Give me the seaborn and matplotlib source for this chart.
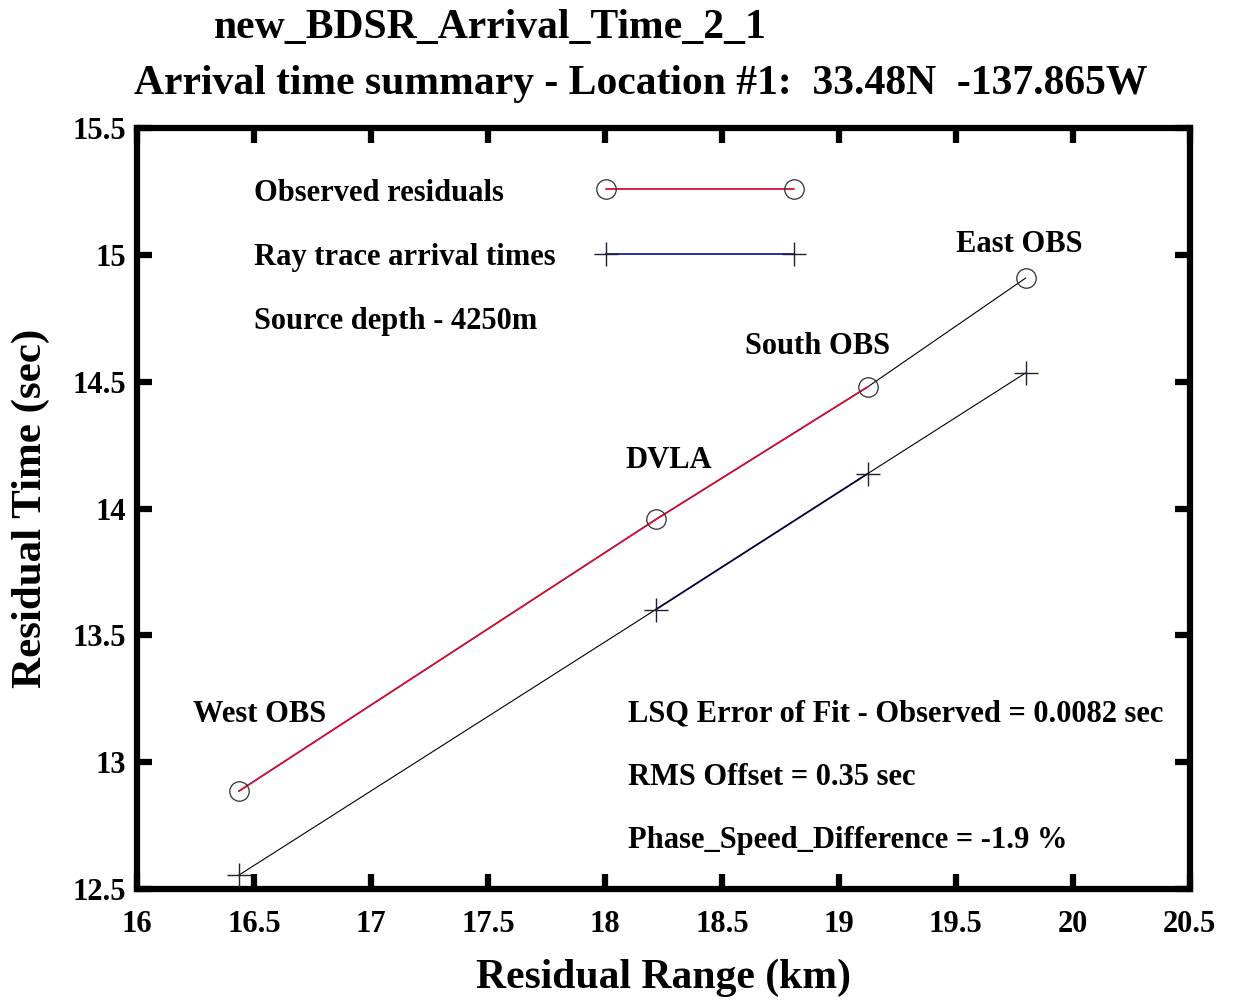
import matplotlib
matplotlib.use("Agg")
import matplotlib.pyplot as plt
import seaborn as sns
import pandas as pd
from matplotlib.lines import Line2D

# ---- data ----
stations = ["West OBS", "DVLA", "South OBS", "East OBS"]
range_km = [16.436, 18.218, 19.124, 19.799]
observed_sec = [12.886, 13.957, 14.480, 14.909]
raytrace_sec = [12.555, 13.602, 14.138, 14.535]
x_ticks = [16, 16.5, 17, 17.5, 18, 18.5, 19, 19.5, 20, 20.5]
y_ticks = [12.5, 13, 13.5, 14, 14.5, 15, 15.5]
legend_labels = ["Observed residuals", "Ray trace arrival times",
                 "Source depth - 4250m"]
stats = ["LSQ Error of Fit - Observed = 0.0082 sec", "RMS Offset = 0.35 sec",
         "Phase_Speed_Difference = -1.9 %"]

sns.set_theme(style="white")
plt.rcParams['font.family'] = ['Liberation Serif', 'DejaVu Serif']
plt.rcParams['font.weight'] = 'bold'
plt.rcParams['text.color'] = 'black'
plt.rcParams['axes.labelcolor'] = 'black'
plt.rcParams['xtick.color'] = 'black'
plt.rcParams['ytick.color'] = 'black'

FS = 22

fig = plt.figure(figsize=(12.33, 10.08), dpi=100)
ax = fig.add_axes([0.111, 0.118, 0.854, 0.755])

df = pd.DataFrame({"station": stations, "range": range_km,
                   "obs": observed_sec, "ray": raytrace_sec})

RED = "#d0103a"
BLUE = "#1a1aa0"
# black fit/connecting lines
sns.lineplot(data=df, x="range", y="obs", ax=ax, color="black", lw=0.8,
             sort=False, zorder=2)
sns.lineplot(data=df, x="range", y="ray", ax=ax, color="black", lw=0.8,
             sort=False, zorder=2)
# coloured data lines (partially visible)
sns.lineplot(data=df.iloc[0:3], x="range", y="obs", ax=ax, color=RED,
             lw=1.3, sort=False, zorder=3)
sns.lineplot(data=df.iloc[1:3], x="range", y="ray", ax=ax, color=BLUE,
             lw=1.3, sort=False, zorder=1)
# markers
ax.plot(df["range"], df["obs"], ls="none", marker="o", ms=14, mfc="none",
        mec="#303030", mew=0.9, zorder=4)
ax.plot(df["range"], df["ray"], ls="none", marker="+", ms=17,
        color="#202030", mew=1.0, zorder=4)

ax.set_xlim(16, 20.5)
ax.set_ylim(12.5, 15.5)
ax.set_xticks(x_ticks)
ax.set_yticks(y_ticks)
ax.set_xticklabels([f"{t:g}" for t in x_ticks], fontsize=FS, fontweight="bold")
ax.set_yticklabels([f"{t:g}" for t in y_ticks], fontsize=FS, fontweight="bold")
ax.tick_params(direction="in", length=11, width=4.5, top=True, right=True,
               bottom=True, left=True, colors="black")
ax.tick_params(axis="x", pad=15)
ax.tick_params(axis="y", pad=8)
for s in ax.spines.values():
    s.set_linewidth(4.5)
    s.set_color("black")

ax.set_xlabel("Residual Range (km)", fontsize=30, fontweight="bold", labelpad=14)
ax.set_ylabel("Residual Time (sec)", fontsize=31, fontweight="bold", labelpad=16)

# legend: sample lines only, labels as left-aligned text
h1 = Line2D([], [], color=RED, lw=1.3, marker="o", ms=14, mfc="none",
            mec="#303030", mew=0.9)
h2 = Line2D([], [], color=BLUE, lw=1.3, marker="+", ms=17, mec="#202030",
            mew=1.0)
leg = ax.legend([h1, h2], ["", ""], loc="center left",
                bbox_to_anchor=(0.437, 0.873), frameon=False, numpoints=2,
                handlelength=6.75, handletextpad=0, borderpad=0,
                borderaxespad=0, labelspacing=1.15,
                prop={"family": "Liberation Serif", "weight": "bold", "size": FS})
for i, lab in enumerate(legend_labels):
    ax.text(16.5, 15.24 - 0.252 * i, lab, fontsize=FS, fontweight="bold",
            va="center", ha="left")

# station labels
label_pos = {"West OBS": (16.24, 13.19), "DVLA": (18.09, 14.19),
             "South OBS": (18.6, 14.64), "East OBS": (19.5, 15.04)}
for name in stations:
    x, y = label_pos[name]
    ax.text(x, y, name, fontsize=FS, fontweight="bold", va="center", ha="left")

for i, s in enumerate(stats):
    ax.text(18.1, 13.19 - 0.25 * i, s, fontsize=FS, fontweight="bold",
            va="center", ha="left")

fig.text(0.398, 0.972, "new_BDSR_Arrival_Time_2_1", fontsize=30,
         fontweight="bold", ha="center", va="center")
fig.text(0.520, 0.917, "Arrival time summary - Location #1:  33.48N  -137.865W",
         fontsize=30, fontweight="bold", ha="center", va="center")

fig.savefig("out.png", dpi=100, facecolor="white")
